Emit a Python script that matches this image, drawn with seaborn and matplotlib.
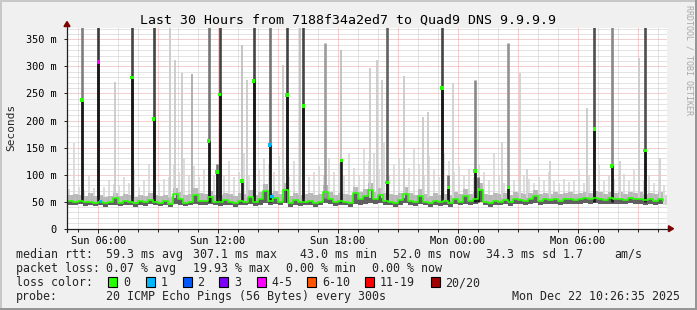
import numpy as np
import pandas as pd
import matplotlib
matplotlib.use("Agg")
import matplotlib.pyplot as plt
from matplotlib.patches import Rectangle, Polygon
from matplotlib.lines import Line2D
import seaborn as sns

# ---------------- data ----------------
step_start = "2025-12-21 04:30"
view_start = "2025-12-21 04:26:35"
view_end = "2025-12-22 10:26:35"

median_ms = [51, 50, 52, 49, 50, 48, 50, 47, 49, 57,
             48, 52, 50, 47, 51, 49, 53, 50, 48, 51,
             46, 64, 55, 48, 50, 62, 52, 51, 58, 50,
             49, 53, 50, 48, 52, 50, 58, 49, 55, 70,
             52, 56, 50, 71, 47, 53, 49, 50, 52, 48,
             50, 68, 55, 49, 52, 50, 48, 66, 54, 61,
             71, 55, 63, 52, 50, 48, 53, 65, 52, 49,
             60, 50, 47, 52, 49, 51, 48, 54, 50, 60,
             51, 55, 71, 50, 48, 52, 50, 53, 49, 55,
             53, 52, 54, 60, 52, 54, 53, 55, 52, 54,
             55, 53, 54, 56, 54, 57, 55, 53, 56, 54,
             55, 53, 56, 54, 55, 53, 54, 52, 55, 52]

smoke_lo = [44, 43, 45, 42, 44, 42, 43, 41, 43, 44,
            42, 44, 43, 41, 44, 42, 45, 43, 42, 44,
            40, 45, 44, 42, 43, 46, 44, 43, 45, 43,
            42, 44, 43, 41, 44, 43, 45, 42, 44, 48,
            44, 46, 43, 47, 41, 44, 42, 43, 44, 41,
            43, 47, 45, 42, 44, 43, 41, 46, 44, 46,
            48, 45, 47, 44, 43, 41, 44, 47, 44, 42,
            46, 43, 40, 44, 42, 43, 41, 45, 43, 46,
            43, 45, 49, 43, 41, 44, 43, 45, 42, 46,
            45, 44, 45, 47, 44, 46, 45, 46, 44, 45,
            46, 45, 45, 47, 45, 47, 46, 45, 46, 45,
            46, 45, 47, 45, 46, 44, 45, 44, 46, 44]

smoke_mid = [62, 64, 63, 60, 66, 60, 62, 58, 61, 66,
             60, 64, 62, 58, 63, 60, 66, 62, 60, 63,
             58, 76, 68, 62, 64, 75, 66, 64, 70, 62,
             62, 66, 64, 60, 66, 64, 72, 62, 68, 82,
             66, 70, 64, 84, 60, 66, 62, 64, 66, 62,
             64, 80, 68, 62, 66, 64, 62, 78, 68, 74,
             84, 68, 76, 66, 64, 62, 66, 78, 66, 62,
             74, 64, 60, 66, 62, 64, 62, 68, 64, 74,
             64, 68, 84, 64, 62, 66, 64, 66, 62, 68,
             66, 64, 66, 72, 64, 66, 65, 67, 64, 66,
             67, 65, 66, 68, 66, 69, 67, 65, 68, 66,
             67, 65, 68, 66, 67, 65, 66, 64, 67, 63]

smoke_hi = [74, 158, 78, 72, 100, 76, 70, 78, 90, 82,
            80, 95, 85, 110, 78, 90, 120, 88, 84, 92,
            95, 118, 105, 130, 100, 115, 96, 110, 120, 98,
            110, 100, 125, 96, 105, 140, 100, 115, 108, 130,
            120, 105, 135, 110, 96, 125, 100, 118, 95, 105,
            115, 100, 130, 105, 122, 98, 140, 112, 100, 150,
            125, 140, 110, 160, 100, 118, 130, 105, 112, 150,
            120, 100, 135, 110, 95, 140, 125, 105, 115, 100,
            110, 95, 120, 105, 90, 140, 100, 85, 95, 90,
            88, 100, 92, 85, 96, 90, 105, 88, 84, 92,
            86, 90, 110, 85, 100, 95, 120, 88, 100, 92,
            95, 102, 88, 110, 96, 90, 100, 85, 92, 80]

spike_times = ["2025-12-21 05:12", "2025-12-21 06:01", "2025-12-21 06:52", "2025-12-21 07:42",
               "2025-12-21 08:47", "2025-12-21 08:52", "2025-12-21 09:37", "2025-12-21 09:52",
               "2025-12-21 10:13", "2025-12-21 10:42", "2025-12-21 11:32", "2025-12-21 11:57",
               "2025-12-21 12:05", "2025-12-21 13:12", "2025-12-21 13:28", "2025-12-21 13:47",
               "2025-12-21 14:35", "2025-12-21 15:16", "2025-12-21 15:27", "2025-12-21 16:05",
               "2025-12-21 16:16", "2025-12-21 17:22", "2025-12-21 18:10", "2025-12-21 19:37",
               "2025-12-21 19:57", "2025-12-21 20:12", "2025-12-21 20:27", "2025-12-21 21:19",
               "2025-12-21 22:16", "2025-12-21 22:31", "2025-12-21 23:12", "2025-12-21 23:32",
               "2025-12-21 23:46", "2025-12-22 00:52", "2025-12-22 01:02", "2025-12-22 02:12",
               "2025-12-22 02:32", "2025-12-22 03:07", "2025-12-22 03:28", "2025-12-22 04:37",
               "2025-12-22 06:27", "2025-12-22 06:50", "2025-12-22 07:42", "2025-12-22 08:07",
               "2025-12-22 09:04", "2025-12-22 09:22", "2025-12-22 10:07"]
spike_top = [400, 400, 272, 400, 400, 190, 400, 312, 288, 286, 400, 120,
             400, 340, 275, 400, 400, 302, 400, 400, 400, 343, 330, 297,
             312, 274, 400, 282, 206, 215, 400, 100, 269, 275, 95, 161,
             343, 288, 110, 125, 223, 400, 400, 125, 316, 400, 130]
spike_median = [238, 308, np.nan, 279, 203, np.nan, np.nan, np.nan, np.nan, np.nan, 162, 105,
                248, 88, np.nan, 273, 155, np.nan, 247, np.nan, 227, np.nan, 126, np.nan,
                np.nan, np.nan, 85, np.nan, np.nan, np.nan, 260, 76, np.nan, 107, 72, np.nan,
                76, np.nan, np.nan, np.nan, np.nan, 184, 116, np.nan, np.nan, 145, np.nan]
spike_share = [0.55, 0.9, 0.15, 0.85, 0.85, 0.15, 0.15, 0.15, 0.15, 0.3, 0.6, 0.6,
               0.85, 0.2, 0.15, 0.85, 0.6, 0.15, 0.85, 0.2, 0.85, 0.4, 0.2, 0.15,
               0.15, 0.15, 0.7, 0.15, 0.15, 0.15, 0.85, 0.6, 0.12, 0.5, 0.6, 0.12,
               0.45, 0.12, 0.12, 0.12, 0.15, 0.8, 0.5, 0.12, 0.15, 0.8, 0.12]
spike_loss = [0, 4, 0, 0, 0, 0, 0, 0, 0, 0, 0, 0,
              0, 0, 0, 0, 1, 0, 0, 0, 0, 0, 0, 0,
              0, 0, 0, 0, 0, 0, 0, 0, 0, 0, 0, 0,
              0, 0, 0, 0, 0, 0, 0, 0, 0, 0, 0]

loss_dot_times = ["2025-12-21 06:07", "2025-12-21 14:42"]
loss_dot_median = [50, 59]
loss_dot_count = [1, 1]

loss_labels = ["0", "1", "2", "3", "4-5", "6-10", "11-19", "20/20"]
loss_colors = ["#26ff00", "#00b8ff", "#0059ff", "#7e00ff", "#ff00ff", "#ff5500", "#ff0000", "#a10000"]
loss_bins = [0, 1, 2, 3, 4, 6, 11, 20]

y_ticks = [0, 50, 100, 150, 200, 250, 300, 350]
y_tick_labels = ["0", "50 m", "100 m", "150 m", "200 m", "250 m", "300 m", "350 m"]

title = "Last 30 Hours from 7188f34a2ed7 to Quad9 DNS 9.9.9.9"
rtt_stats = [("median rtt:", 16), ("59.3 ms avg", 107), ("307.1 ms max", 193.5), ("43.0 ms min", 300),
             ("52.0 ms now", 393.3), ("34.3 ms sd", 486.7), ("1.7", 563.3), ("am/s", 614.3)]
loss_stats = [("packet loss:", 16), ("0.07 % avg", 107), ("19.93 % max", 193.5),
              ("0.00 % min", 286.7), ("0.00 % now", 372.7)]
probe_text = "20 ICMP Echo Pings (56 Bytes) every 300s"
date_text = "Mon Dec 22 10:26:35 2025"

# ---------------- figure ----------------
sns.set_style("white")
plt.rcParams['font.family'] = ['DejaVu Sans Mono', 'DejaVu Sans']

W, H = 697, 310
fig = plt.figure(figsize=(W / 100, H / 100), dpi=100, facecolor="#f0f0f0")


def fx(x):
    return x / W


def fy(y):
    return 1 - y / H


ax = fig.add_axes([fx(67), fy(228.7), (666.5 - 67) / W, (228.7 - 28) / H])
ax.set_facecolor("white")

t_steps = pd.date_range(step_start, periods=len(median_ms), freq="15min")
t0, t1 = pd.Timestamp(view_start), pd.Timestamp(view_end)
ax.set_xlim(t0, t1)
ax.set_ylim(0, 371)

# grid
dots = (0, (1, 1))
for v in range(10, 371, 10):
    if v % 50:
        ax.axhline(v, color="#c8c8c8", lw=0.72, ls=dots, zorder=0.5)
for v in range(50, 371, 50):
    ax.axhline(v, color="#e8a0a0", lw=0.72, ls=dots, zorder=0.6)
for h in pd.date_range("2025-12-21 05:00", "2025-12-22 10:00", freq="1h"):
    if h.hour % 3:
        ax.axvline(h, color="#c8c8c8", lw=0.72, ls=dots, zorder=0.5)
    else:
        ax.axvline(h, color="#e8a0a0", lw=0.72, ls=dots, zorder=0.6)

# smoke around the baseline
ax.vlines(t_steps + pd.Timedelta("4min"), smoke_lo, smoke_hi, color="#dadada", lw=1.3, zorder=1)
ax.vlines(t_steps + pd.Timedelta("11min"), smoke_lo, smoke_mid, color="#cfcfcf", lw=1.3, zorder=1)
ax.fill_between(t_steps, smoke_lo, smoke_mid, step="post", color="#b4b4b4", lw=0, zorder=1.1,
                alpha=0.85)
ax.fill_between(t_steps, smoke_lo, median_ms, step="post", color="#606060", lw=0, zorder=1.2)

# spikes
sp_t = pd.to_datetime(pd.Series(spike_times))
sp_top = np.array(spike_top, dtype=float)
sp_med = np.array(spike_median, dtype=float)
sp_share = np.array(spike_share, dtype=float)
order = np.argsort(sp_share)
for i in order:
    g = 0.92 - 0.77 * sp_share[i]
    col = (g, g, g)
    lw = 1.9 if sp_share[i] >= 0.4 else 1.4
    ax.vlines(sp_t[i], 56, sp_top[i], color=col, lw=lw, zorder=2 + sp_share[i])
    if not np.isnan(sp_med[i]):
        ax.vlines(sp_t[i], 50, sp_med[i], color="#181818", lw=1.9, zorder=3.5)

# median line
med_df = pd.DataFrame({"t": t_steps, "median": median_ms})
sns.lineplot(data=med_df, x="t", y="median", color="#26ff00", lw=1.2,
             drawstyle="steps-post", estimator=None, ax=ax, zorder=4)


def loss_label(n):
    idx = max(i for i, b in enumerate(loss_bins) if n >= b)
    return loss_labels[idx]


pal = dict(zip(loss_labels, loss_colors))
dot_df = pd.DataFrame({
    "t": list(sp_t[~np.isnan(sp_med)]) + list(pd.to_datetime(loss_dot_times)),
    "median": list(sp_med[~np.isnan(sp_med)]) + loss_dot_median,
    "loss": [loss_label(n) for n, m in zip(spike_loss, sp_med) if not np.isnan(m)]
            + [loss_label(n) for n in loss_dot_count],
})
sns.scatterplot(data=dot_df, x="t", y="median", hue="loss", palette=pal, marker="s",
                s=6, linewidth=0, legend=False, ax=ax, zorder=5)

# axes styling
for s in ax.spines.values():
    s.set_visible(False)
ax.set_xlabel("")
ax.set_ylabel("")
ax.set_yticks(y_ticks)
ax.set_yticklabels(y_tick_labels)
xt = pd.date_range("2025-12-21 06:00", "2025-12-22 06:00", freq="6h")
ax.set_xticks(xt)
ax.set_xticklabels([d.strftime("%a %H:%M") for d in xt])
ax.set_xticks(pd.date_range("2025-12-21 05:00", "2025-12-22 10:00", freq="1h"), minor=True)
ax.tick_params(axis="y", which="major", length=2, width=0.7, color="#202020",
               pad=5.5, labelsize=7.4, labelcolor="#000000", left=True)
ax.tick_params(axis="x", which="major", length=3, width=0.7, color="#202020",
               pad=2.0, labelsize=7.4, labelcolor="#000000", bottom=True)
ax.tick_params(axis="x", which="minor", length=2, width=0.7, color="#202020", bottom=True)
ax.grid(False)

# axis lines and arrows
fig.add_artist(Line2D([fx(67), fx(669)], [fy(228.7), fy(228.7)], color="#202020", lw=0.9))
fig.add_artist(Line2D([fx(67), fx(67)], [fy(232), fy(26)], color="#202020", lw=0.9))
fig.add_artist(Polygon([(fx(668.5), fy(225.7)), (fx(673.5), fy(228.7)), (fx(668.5), fy(231.7))],
                       closed=True, color="#7f0000", transform=fig.transFigure))
fig.add_artist(Polygon([(fx(64), fy(26.5)), (fx(67), fy(21.5)), (fx(70), fy(26.5))],
                       closed=True, color="#7f0000", transform=fig.transFigure))

# frame shading
fig.add_artist(Rectangle((0, fy(2)), 1, 2 / H, transform=fig.transFigure, color="#c8c8c8", lw=0))
fig.add_artist(Rectangle((0, 0), 2 / W, 1, transform=fig.transFigure, color="#c8c8c8", lw=0))
fig.add_artist(Rectangle((0, 0), 1, 2 / H, transform=fig.transFigure, color="#969696", lw=0))
fig.add_artist(Rectangle((fx(695), 0), 2 / W, 1, transform=fig.transFigure, color="#969696", lw=0))

# texts
fig.text(fx(347.5), fy(24), title, ha="center", va="baseline", fontsize=9.5, color="#000000")
fig.text(fx(11), fy(127), "Seconds", rotation=90, ha="center", va="center", fontsize=8)
fig.text(fx(688.5), fy(5), "RRDTOOL / TOBI OETIKER", rotation=270, ha="center", va="top",
         fontsize=6, color="#a8a8a8")

fs = 8.4
for s, x in rtt_stats:
    fig.text(fx(x - 0.5), fy(257.7), s, ha="left", va="baseline", fontsize=fs)
for s, x in loss_stats:
    fig.text(fx(x - 0.5), fy(271.7), s, ha="left", va="baseline", fontsize=fs)

fig.text(fx(15.5), fy(286), "loss color:", ha="left", va="baseline", fontsize=fs)
box_x = [108.3, 145.7, 182.7, 219.3, 256.7, 307.3, 365.3, 430.7]
for lab, col, bx in zip(loss_labels, loss_colors, box_x):
    fig.add_artist(Rectangle((fx(bx), fy(286.7)), 9 / W, 9.5 / H, transform=fig.transFigure,
                             facecolor=col, edgecolor="#000000", lw=0.8))
    fig.text(fx(bx + 14.5), fy(286), lab, ha="left", va="baseline", fontsize=fs)

fig.text(fx(15.5), fy(300), "probe:", ha="left", va="baseline", fontsize=fs)
fig.text(fx(106.5), fy(300), probe_text, ha="left", va="baseline", fontsize=fs)
fig.text(fx(680), fy(300), date_text, ha="right", va="baseline", fontsize=fs)

fig.savefig("out.png", dpi=100, facecolor=fig.get_facecolor())
